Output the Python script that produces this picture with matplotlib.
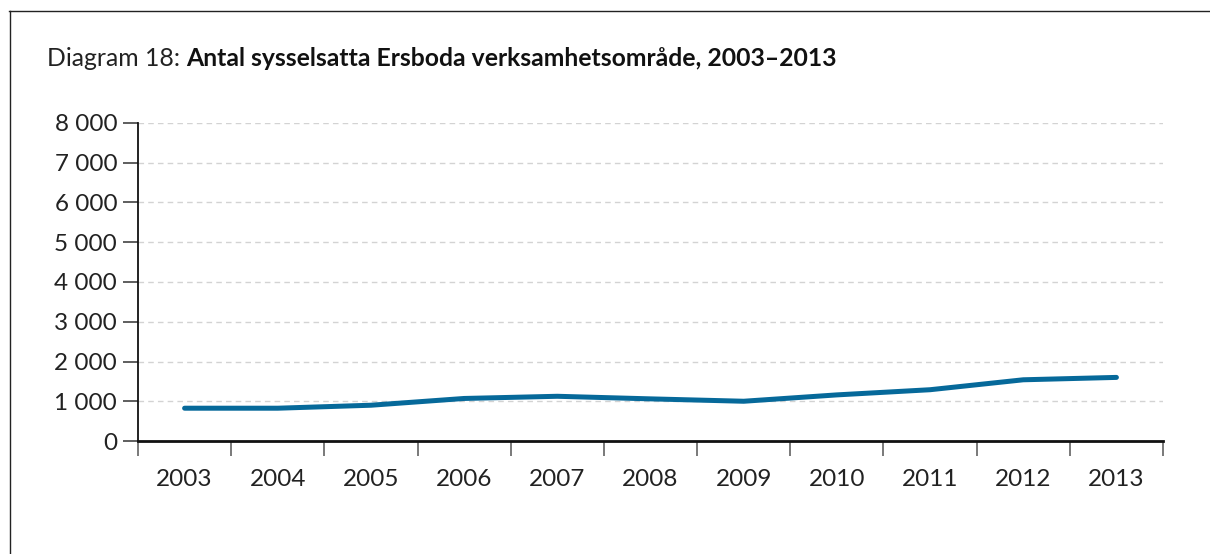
import matplotlib
matplotlib.use("Agg")
import matplotlib.pyplot as plt
from matplotlib.lines import Line2D

years = ["2003", "2004", "2005", "2006", "2007", "2008", "2009", "2010", "2011", "2012", "2013"]
employed = [825, 825, 900, 1070, 1125, 1060, 1000, 1160, 1290, 1540, 1600]
yticks = [0, 1000, 2000, 3000, 4000, 5000, 6000, 7000, 8000]
ytick_labels = ["0", "1 000", "2 000", "3 000", "4 000", "5 000", "6 000", "7 000", "8 000"]

W, H = 1210, 554
fig = plt.figure(figsize=(W / 100, H / 100), dpi=100)
plt.rcParams['font.family'] = ['Lato', 'DejaVu Sans']

ax = fig.add_axes([138 / W, 1 - 441 / H, (1163 - 138) / W, (441 - 123) / H])

x = list(range(len(years)))
ax.plot(x, employed, color="#06699a", lw=3.6, solid_capstyle="round", solid_joinstyle="round", zorder=3)

ax.set_xlim(-0.5, len(years) - 0.5)
ax.set_ylim(0, 8000)
ax.set_yticks(yticks)
ax.set_yticklabels(ytick_labels, fontsize=17.5, color="#222222")
ax.tick_params(axis="y", length=11, width=1.1, color="#333333", pad=4)

ax.set_xticks([i - 0.5 for i in range(len(years) + 1)])
ax.set_xticklabels([])
ax.set_xticks(x, minor=True)
ax.set_xticklabels(years, minor=True, fontsize=17.5, color="#222222")
ax.tick_params(axis="x", which="major", length=11, width=1.1, color="#555555")
ax.tick_params(axis="x", which="minor", length=0, pad=20)

ax.grid(axis="y", color="#d3d3d3", linestyle=(0, (4, 3)), linewidth=1.0)
ax.set_axisbelow(True)
for s in ["top", "right"]:
    ax.spines[s].set_visible(False)
ax.spines["left"].set_linewidth(1.3)
ax.spines["bottom"].set_linewidth(2.0)
ax.spines["left"].set_color("#111111")
ax.spines["bottom"].set_color("#111111")

# title
t1 = fig.text(47 / W, 1 - 66 / H, "Diagram 18: ", fontsize=17.8, color="#222222", va="baseline", ha="left")
fig.canvas.draw()
bb = t1.get_window_extent()
fig.text(bb.x1 / W, 1 - 66 / H, "Antal sysselsatta Ersboda verksamhetsområde, 2003–2013",
         fontsize=17.8, fontweight="bold", color="#111111", va="baseline", ha="left")

# frame lines (top and left)
fig.add_artist(Line2D([8.5 / W, 1.0], [1 - 10.5 / H, 1 - 10.5 / H], transform=fig.transFigure, color="#222222", lw=1.0))
fig.add_artist(Line2D([9.5 / W, 9.5 / W], [1 - 10.5 / H, 0], transform=fig.transFigure, color="#222222", lw=1.0))

fig.savefig("out.png", dpi=100)
